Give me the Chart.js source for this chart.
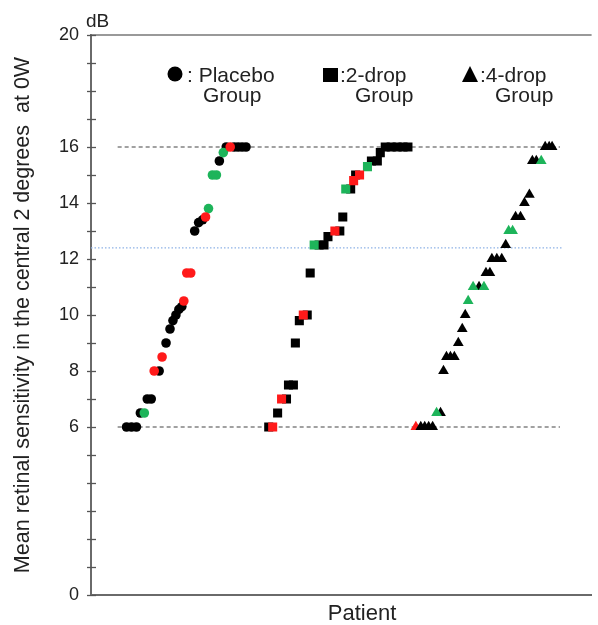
<!DOCTYPE html>
<html><head><meta charset="utf-8">
<script src="https://cdn.jsdelivr.net/npm/chart.js@4.4.0/dist/chart.umd.min.js"></script>
<style>html,body{margin:0;padding:0;background:#fff}</style>
</head><body>
<canvas id="c" width="598" height="625"></canvas>
<script>
// ---- data (x = patient position along the axis, y = dB) ----
const placeboX=[36,41,46,50,54,57,61,64,69,72,76,80,83,86,89,92,94,97,101,105,109,113,116,119,123,127,130,134,137,141,145,149,153,157];
const placeboY=[6,6,6,6.5,6.5,7,7,8,8,8.5,9,9.5,9.8,10,10.2,10.3,10.5,11.5,11.5,13,13.3,13.4,13.5,13.8,15,15,15.5,15.8,16,16,16,16,16,16];
const placeboC="kkkkgkkrkrkkkkkkrrrkkkrgggkgkrkkkk".split('');

const twoDropX=[180,184,189,193,198,200,205,207,211,215,219,222,226,231,236,240,247,252,255,258,263,266,268,272,280,284,290,293,298,304,310,316,321];
const twoDropY=[6,6,6.5,7,7,7.5,7.5,9,9.8,10,10,11.5,12.5,12.5,12.5,12.8,13,13,13.5,14.5,14.5,14.8,15,15,15.3,15.5,15.5,15.8,16,16,16,16,16];
const twoDropC="krkrkkkkkrkkgkkkrkkgkrkrgkkkkkkkk".split('');

const fourDropX=[329,334,338,342,346,350,354,357,360,364,368,372,376,379,382,387,393,398,400,404,406,411,416,420,423,427,430,435,439,444,447,451,456,460,464,467];
const fourDropY=[6,6,6,6,6,6.5,6.5,8,8.5,8.5,8.5,9,9.5,10,10.5,11,11,11,11.5,11.5,12,12,12,12.5,13,13,13.5,13.5,14,14.3,15.5,15.5,15.5,16,16,16];
const fourDropC="rkkkkgkkkkkkkkggkgkkkkkkggkkkkkkgkkk".split('');

const yTickLabels=[0,6,8,10,12,14,16,20];
const dashedLevels=[16,6];
const dashedRange=[27,475];
const dottedLevel=12.4;
const dottedRange=[0,477];

const groupNames=["Placebo","2-drop","4-drop"];
const yTitle="Mean retinal sensitivity in the central 2 degrees  at 0W";
const xTitle="Patient";
const yUnit="dB";

const COL={k:'#000000',r:'#ff1a1a',g:'#1db45a'};
const FONT='"Liberation Sans", Arial, sans-serif';

function group(xs,ys,cs,style,radius,orders){
  return ['k','r','g'].map(c=>({
    data: xs.map((x,i)=>({x:x,y:ys[i],c:cs[i]})).filter(p=>p.c===c),
    showLine:false, pointStyle:style,
    pointRadius:radius, pointHoverRadius:radius,
    pointBackgroundColor:COL[c], pointBorderColor:COL[c], pointBorderWidth:0,
    order:orders[c]
  }));
}
const datasets=[
  ...group(placeboX,placeboY,placeboC,'circle',4.8,{k:10,r:2,g:2}),
  ...group(twoDropX,twoDropY,twoDropC,'rect',6.4,{k:10,r:2,g:2}),
  ...group(fourDropX,fourDropY,fourDropC,'triangle',6.2,{k:10,r:20,g:2}),
  ...dashedLevels.map(v=>({data:dashedRange.map(x=>({x:x,y:v})),showLine:true,pointRadius:0,borderColor:'#444',borderWidth:1.2,borderDash:[4,3],order:100})),
  {data:dottedRange.map(x=>({x:x,y:dottedLevel})),showLine:true,pointRadius:0,borderColor:'#8fb3e6',borderWidth:1.3,borderDash:[1.5,2],order:100}
];

const deco={
  id:'deco',
  afterDraw(chart){
    const {ctx,chartArea:a,scales:{y}}=chart;
    ctx.save();
    // top frame
    ctx.strokeStyle='#777';ctx.lineWidth=1.5;
    ctx.beginPath();ctx.moveTo(a.left,a.top);ctx.lineTo(a.right,a.top);ctx.stroke();
    // tick marks every 1 dB
    ctx.lineWidth=1.3;ctx.strokeStyle='#555';
    for(let v=0;v<=20;v++){
      const py=Math.round(y.getPixelForValue(v))+0.5;
      ctx.beginPath();ctx.moveTo(a.left-4,py);ctx.lineTo(a.left+5,py);ctx.stroke();
    }
    ctx.fillStyle='#222';ctx.textBaseline='alphabetic';ctx.textAlign='left';
    ctx.font='19px '+FONT;
    ctx.fillText(yUnit,86,27);
    ctx.textAlign='center';
    ctx.font='22px '+FONT;
    ctx.fillText(xTitle,362,620);
    // legend
    ctx.textAlign='left';ctx.font='21px '+FONT;
    ctx.fillStyle='#000';
    ctx.beginPath();ctx.arc(175,74,7.5,0,Math.PI*2);ctx.fill();
    ctx.fillRect(323,68,15,14);
    ctx.beginPath();ctx.moveTo(470,66);ctx.lineTo(478,82);ctx.lineTo(462,82);ctx.closePath();ctx.fill();
    ctx.fillStyle='#222';
    ctx.fillText(': '+groupNames[0],187,82);
    ctx.fillText(':'+groupNames[1],340,82);
    ctx.fillText(':'+groupNames[2],480,82);
    ctx.fillText('Group',203,102);
    ctx.fillText('Group',355,102);
    ctx.fillText('Group',495,102);
    ctx.restore();
  }
};

new Chart(document.getElementById('c'),{
  type:'scatter',
  data:{datasets:datasets},
  options:{
    responsive:false,animation:false,events:[],
    layout:{padding:{top:35,right:0,left:0,bottom:0}},
    plugins:{legend:{display:false},tooltip:{enabled:false}},
    scales:{
      x:{type:'linear',min:0,max:507,
        ticks:{display:false},grid:{display:false,drawTicks:false},
        border:{display:true,color:'#6a6a6a',width:2},
        afterFit(s){s.height=30;}},
      y:{type:'linear',min:0,max:20,
        ticks:{stepSize:1,autoSkip:false,padding:12,color:'#222',
          font:{family:FONT,size:18},
          callback:v=>yTickLabels.includes(v)?String(v):''},
        grid:{display:false,drawTicks:false},
        border:{display:true,color:'#6a6a6a',width:2},
        title:{display:true,text:yTitle,color:'#222',font:{family:FONT,size:21.5},padding:{top:10,bottom:0}},
        afterFit(s){s.width=91;}}
    }
  },
  plugins:[deco]
});
</script>
</body></html>
